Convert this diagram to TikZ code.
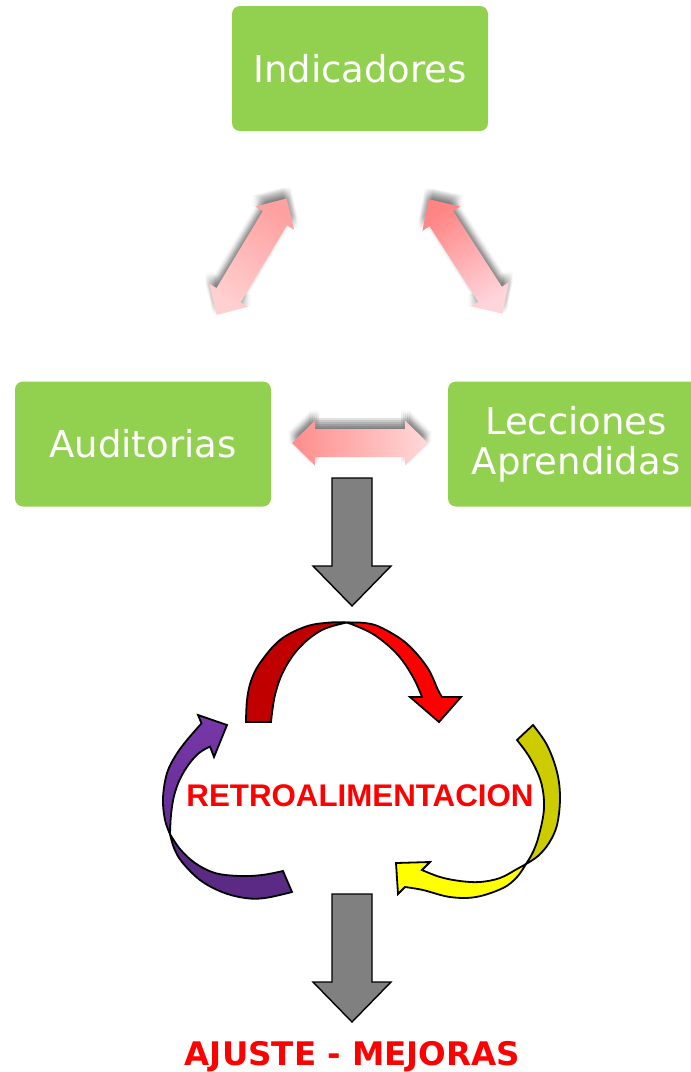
\documentclass[tikz,border=0pt]{standalone}
\usepackage{fontspec}
\setmainfont{DejaVu Sans}
\newfontfamily\arialfont{Liberation Sans}
\definecolor{boxgreen}{HTML}{92D050}
\definecolor{pinkA}{HTML}{FF8C8C}
\definecolor{pinkB}{HTML}{FFD8D8}
\definecolor{pinkC}{HTML}{FFA0A0}
\definecolor{pinkD}{HTML}{FFD0D0}
\definecolor{pinkE}{HTML}{FF8585}
\definecolor{pinkF}{HTML}{FFD5DC}
\definecolor{darkred}{HTML}{C00000}
\definecolor{brightred}{HTML}{FF0000}
\definecolor{olive}{HTML}{CCCC00}
\definecolor{brightyellow}{HTML}{FFFF00}
\definecolor{purpleA}{HTML}{7838A8}
\definecolor{purpleB}{HTML}{652D96}
\definecolor{purpleC}{HTML}{5A2A84}
\definecolor{arrowgray}{HTML}{808080}
\newcommand{\dblarrowpath}{(-68,0) -- (-45,22.5) -- (-45,14) -- (45,14) -- (45,22.5) -- (68,0) -- (45,-22.5) -- (45,-14) -- (-45,-14) -- (-45,-22.5) -- cycle}
\newcommand{\pinkarrow}[6]{%
  \foreach \dx in {-4,-2,0,2,4}{\foreach \dy in {-1,-3,-5,-7,-9,-11}{%
    \begin{scope}[shift={(#1+\dx,#2+\dy)}, rotate=#3]
      \fill[black, opacity=0.025] \dblarrowpath;
    \end{scope}}}%
  \begin{scope}[shift={(#1,#2)}, rotate=#3]
    \shade[top color=#5, bottom color=#6, shading angle=#4] \dblarrowpath;
  \end{scope}}
\begin{document}
\begin{tikzpicture}[x=1pt,y=-1pt,
  box/.style={fill=boxgreen, rounded corners=8pt, minimum width=256pt, minimum height=125pt,
    text=white, font=\fontsize{37}{40}\selectfont, inner sep=0pt, align=center},
  grayarrow/.style={fill=arrowgray, draw=black, line width=1.4pt, line join=miter},
  curvearrow/.style={draw=black, line width=1.8pt, line join=miter},
  redtext/.style={text=brightred, inner sep=0pt}]
\useasboundingbox (0,0) rectangle (691,1072);
\clip (0,0) rectangle (691,1072);

% boxes
\node[box] (ind) at (360,68.5) {Indicadores};
\node[box] (aud) at (143,444) {Auditorias};
\node[box] (lec) at (576,444) {Lecciones\\Aprendidas};

% pink double arrows
\pinkarrow{251.7}{256.7}{59}{-31}{pinkC}{pinkD}
\pinkarrow{465.7}{256.5}{-57.2}{32.8}{pinkE}{pinkF}
\pinkarrow{360}{443}{0}{90}{pinkA}{pinkB}

% gray arrow down
\coordinate (g1) at (352,478);
\draw[grayarrow] (332,478) -- (372,478) -- (372,566) -- (391,566) -- (352,606) -- (313,566) -- (332,566) -- cycle;

% red curved arrow
\draw[curvearrow, fill=darkred] plot[smooth, tension=0.6] coordinates {(246,722) (247,700) (251,681) (260,663) (280,640) (306,626.5) (330,622.5) (347,622.5)}
  -- plot[smooth, tension=0.6] coordinates {(347,622.5) (322,630) (300,647) (284,670) (275,695) (271,722)} -- cycle;
\draw[curvearrow, fill=brightred] plot[smooth, tension=0.6] coordinates {(347,622.5) (365,623) (381,627.5) (406,643) (427,667) (438,690) (442,697)}
  -- (461,697) -- (439,722) -- (410,697) -- (422,697)
  -- plot[smooth, tension=0.6] coordinates {(422,697) (413,677) (397,654) (373,634) (347,622.5)} -- cycle;

% olive / yellow curved arrow
\draw[curvearrow, fill=olive] plot[smooth, tension=0.6] coordinates {(533,725) (547,745) (557,772) (560,798) (557,825) (549,843) (538,856) (526,864)}
  -- plot[smooth, tension=0.6] coordinates {(526,864) (533,852) (539,835) (544,808) (541,782) (530,758) (517,740)} -- cycle;
\draw[curvearrow, fill=brightyellow] plot[smooth, tension=0.6] coordinates {(526,864) (517,869) (500,878) (480,882) (460,881) (440,877) (422,870)}
  -- (430,862) -- (396,863) -- (398,894) -- (405,887)
  -- plot[smooth, tension=0.6] coordinates {(405,887) (423,890) (450,897) (476,897) (503,888) (517,877) (526,864)} -- cycle;

% purple curved arrow
\draw[curvearrow, fill=purpleC] plot[smooth, tension=0.6] coordinates {(170,834) (174,848) (182,862) (200,880) (222,892) (245,898) (265,898) (292,892)}
  -- (283,871)
  -- plot[smooth, tension=0.6] coordinates {(283,871) (262,875) (240,876) (215,873) (195,863) (180,849) (170,834)} -- cycle;
\draw[curvearrow, top color=purpleA, bottom color=purpleB] plot[smooth, tension=0.6] coordinates {(170,834) (165,820) (163,798) (167,773) (176,755) (187,740) (201.5,723.4)}
  -- (198,715) -- (227,725) -- (214,757) -- (210,746.5)
  -- plot[smooth, tension=0.6] coordinates {(210,746.5) (199,753) (189,764) (180,779) (174,796) (171,815) (170,834)} -- cycle;

% text
\node[redtext, font=\arialfont\bfseries\fontsize{31.3}{36}\selectfont] (retro) at (360,796) {RETROALIMENTACION};

% gray arrow down 2
\draw[grayarrow] (332,894) -- (372,894) -- (372,982) -- (391,982) -- (352,1022) -- (313,982) -- (332,982) -- cycle;

\node[redtext, font=\bfseries\fontsize{32.5}{36}\selectfont] (ajuste) at (352.5,1057) {AJUSTE - MEJORAS};
\end{tikzpicture}
\end{document}
